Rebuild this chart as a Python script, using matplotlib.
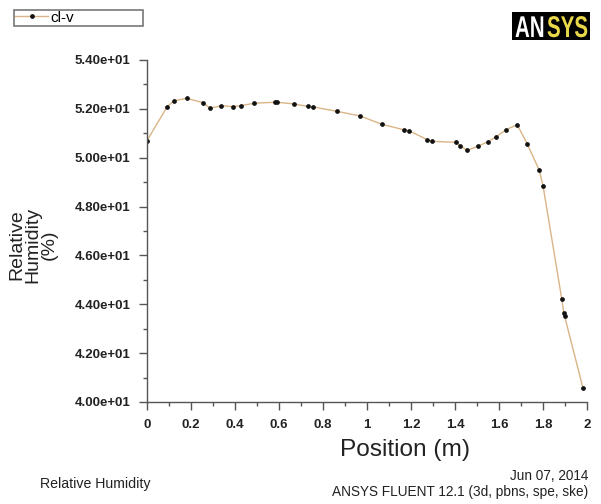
import matplotlib.pyplot as plt
from matplotlib.patches import Rectangle, PathPatch
from matplotlib.textpath import TextPath
from matplotlib.font_manager import FontProperties
from matplotlib.transforms import Affine2D
from matplotlib.ticker import MultipleLocator, FormatStrFormatter

plt.rcParams['font.family'] = ['Liberation Sans', 'DejaVu Sans']

# position along the line (m) and relative humidity (%)
position = [0.0, 0.092, 0.123, 0.18, 0.256, 0.286, 0.338, 0.389, 0.426, 0.488,
            0.582, 0.59, 0.668, 0.73, 0.756, 0.862, 0.968, 1.067, 1.168, 1.19,
            1.275, 1.294, 1.405, 1.423, 1.456, 1.506, 1.552, 1.586, 1.633, 1.683,
            1.728, 1.782, 1.80, 1.885, 1.894, 1.898, 1.982]
humidity = [50.70, 52.09, 52.33, 52.43, 52.25, 52.02, 52.13, 52.09, 52.13, 52.23,
            52.27, 52.27, 52.20, 52.10, 52.08, 51.90, 51.71, 51.37, 51.14, 51.11,
            50.73, 50.67, 50.63, 50.49, 50.30, 50.48, 50.66, 50.85, 51.15, 51.35,
            50.57, 49.51, 48.86, 44.23, 43.66, 43.52, 40.56]

grey = '#555555'
fig = plt.figure(figsize=(6.01, 5.04), dpi=100)
ax = fig.add_axes([0.2446, 0.2024, 0.7321, 0.6786])

line, = ax.plot(position, humidity, color='#d9b486', lw=1.0,
                marker='o', ms=2.4, mfc='#111111', mec='#111111')

ax.set_xlim(0, 2)
ax.set_ylim(40, 54)
ax.xaxis.set_major_locator(MultipleLocator(0.2))
ax.xaxis.set_minor_locator(MultipleLocator(0.1))
ax.yaxis.set_major_locator(MultipleLocator(2))
ax.yaxis.set_minor_locator(MultipleLocator(1))
ax.xaxis.set_major_formatter(FormatStrFormatter('%g'))
ax.set_yticks(ax.get_yticks(), ['%.2fe+01' % (v / 10) for v in ax.get_yticks()])
ax.set_ylim(40, 54)

for s in ['top', 'right']:
    ax.spines[s].set_visible(False)
for s in ['left', 'bottom']:
    ax.spines[s].set_color(grey)
    ax.spines[s].set_linewidth(1.0)
ax.tick_params(which='both', color=grey, labelcolor='#222222', labelsize=9.5)
ax.tick_params(which='major', length=6, width=1, pad=6)
ax.tick_params(which='minor', length=3, width=1)
for lab in ax.get_xticklabels() + ax.get_yticklabels():
    lab.set_fontweight('bold')

fig.text(405 / 601, 1 - 450 / 504, 'Position (m)', fontsize=17.6, color='#222222',
         ha='center', va='center')
fig.text(0.055, 0.514, 'Relative\nHumidity\n(%)', rotation=90, ha='center',
         va='center', fontsize=14, color='#222222', linespacing=0.9)

# legend box
leg = ax.legend([line], ['cl-v'], loc='upper left', mode='expand',
                bbox_to_anchor=(14 / 601, 1 - 29 / 504, 129 / 601, 19 / 504),
                bbox_transform=fig.transFigure, frameon=True, fancybox=False,
                borderpad=0.05, borderaxespad=0, handlelength=2.2,
                handletextpad=0.1, fontsize=11)
leg.get_frame().set_edgecolor(grey)
leg.get_frame().set_linewidth(1.2)

# logo: condensed bold letters on a black box
fig.add_artist(Rectangle((512 / 601, 1 - 40 / 504), 78 / 601, 28 / 504,
                         transform=fig.transFigure, fc='black', ec='none'))
bold = FontProperties(family='Liberation Sans', weight='bold')
base = 504 - 37
for txt, x0, col in [('AN', 515, 'white'), ('SYS', 547, '#e8d84a')]:
    tp = TextPath((0, 0), txt, size=1, prop=bold)
    tr = Affine2D().scale(20.5, 30).translate(x0, base)
    fig.add_artist(PathPatch(tr.transform_path(tp), fc=col, ec='none',
                             transform=None))

fig.text(40 / 601, 1 - 484 / 504, 'Relative Humidity', fontsize=10.2,
         color='#222222', ha='left', va='center')
fig.text(588 / 601, 1 - 476 / 504, 'Jun 07, 2014', fontsize=9.8,
         color='#222222', ha='right', va='center')
fig.text(588 / 601, 1 - 492 / 504, 'ANSYS FLUENT 12.1 (3d, pbns, spe, ske)',
         fontsize=9.8, color='#222222', ha='right', va='center')

fig.savefig('out.png', dpi=100)
